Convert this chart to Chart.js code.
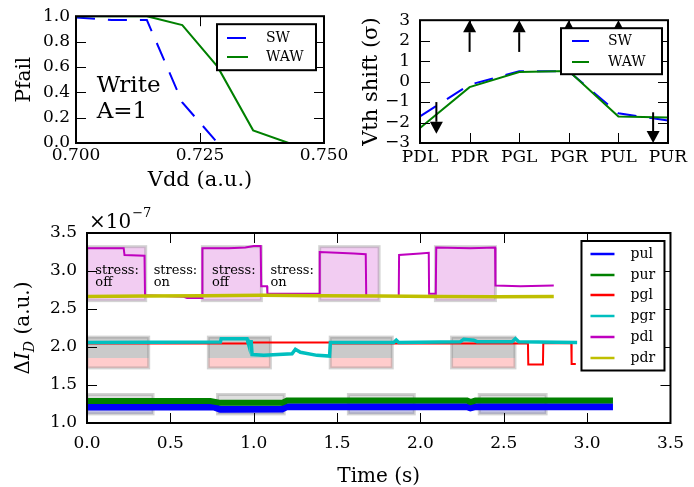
<!DOCTYPE html>
<html>
<head>
<meta charset="utf-8">
<script src="https://cdn.jsdelivr.net/npm/chart.js@4/dist/chart.umd.min.js"></script>
<style>
  html, body { margin: 0; padding: 0; background: #fff; }
  #wrap { position: relative; width: 694px; height: 487px; overflow: hidden; }
  #wrap canvas { position: absolute; left: 0; top: 0; }
</style>
</head>
<body>
<div id="wrap">
  <canvas id="pfailChart" width="694" height="487"></canvas>
  <canvas id="vthChart" width="694" height="487"></canvas>
  <canvas id="currentChart" width="694" height="487"></canvas>
</div>
<script>
// ---- failure probability vs supply ----
const vdd = [0.700, 0.70714, 0.71429, 0.72143, 0.72857, 0.73571, 0.74286];
const pfailSW = [0.99, 0.97, 0.97, 0.32, 0.0, null, null];
const pfailWAW = [1.0, 1.0, 1.0, 0.93, 0.60, 0.10, 0.0];
const vddTicks = [0.700, 0.725, 0.750];
const pfailTicks = [0, 0.2, 0.4, 0.6, 0.8, 1.0];
const noteLines = ['Write', 'A=1'];
const noteAt = [0.70417, 0.20];

// ---- Vth shift per transistor ----
const transistors = ['PDL', 'PDR', 'PGL', 'PGR', 'PUL', 'PUR'];
const vthSW = [-1.70, -0.15, 0.50, 0.50, -1.55, -1.90];
const vthWAW = [-2.27, -0.27, 0.47, 0.52, -1.70, -1.76];
const vthTicks = [-3, -2, -1, 0, 1, 2, 3];
const arrowPos = [0.33, 1, 2, 3, 4, 4.7];
const arrowFrom = [-1.0, 1.45, 1.45, 1.45, 1.45, -1.5];
const arrowTo = [-2.55, 3, 3, 3, 3, -3];

// ---- drain current traces (x1e-7) ----
const timeTicks = [0, 0.5, 1, 1.5, 2, 2.5, 3, 3.5];
const currentTicks = [1, 1.5, 2, 2.5, 3, 3.5];
const pulTrace = [[0, 1.21], [0.76, 1.21], [0.80, 1.18], [1.17, 1.185], [1.20, 1.215], [2.28, 1.215], [2.30, 1.20], [2.33, 1.215], [3.155, 1.215]];
const purTrace = [[0, 1.29], [0.74, 1.29], [0.80, 1.265], [1.17, 1.265], [1.20, 1.295], [2.28, 1.295], [2.30, 1.275], [2.33, 1.295], [3.155, 1.295]];
const pglTrace = [[0, 2.045], [0.985, 2.045], [0.99, 2.058], [1.46, 2.058], [1.465, 2.045], [2.645, 2.045], [2.647, 1.77], [2.735, 1.77], [2.737, 2.05], [2.905, 2.05], [2.907, 1.775], [2.932, 1.775]];
const pgrTrace = [[0, 2.06], [0.80, 2.065], [0.805, 2.11], [0.96, 2.11], [0.965, 2.07], [0.985, 2.07], [0.99, 1.90], [1.06, 1.89], [1.23, 1.91], [1.25, 1.97], [1.28, 1.93], [1.38, 1.89], [1.455, 1.88], [1.46, 2.06], [1.84, 2.06], [1.855, 2.09], [1.87, 2.06], [2.24, 2.07], [2.26, 2.10], [2.32, 2.09], [2.34, 2.07], [2.55, 2.07], [2.57, 2.11], [2.59, 2.07], [2.94, 2.06]];
const pdlTrace = [[0, 3.30], [0.22, 3.30], [0.225, 3.21], [0.345, 3.20], [0.348, 2.68], [0.58, 2.66], [0.60, 2.645], [0.69, 2.645], [0.692, 3.30], [0.85, 3.30], [0.95, 3.31], [1.00, 3.33], [1.042, 3.33], [1.045, 2.80], [1.08, 2.80], [1.082, 2.70], [1.394, 2.70], [1.396, 3.25], [1.50, 3.24], [1.60, 3.23], [1.672, 3.22], [1.675, 2.67], [1.87, 2.67], [1.872, 3.21], [2.00, 3.23], [2.05, 3.24], [2.052, 2.70], [2.092, 2.70], [2.095, 3.31], [2.30, 3.30], [2.448, 3.31], [2.45, 2.81], [2.60, 2.80], [2.80, 2.81]];
const pdrTrace = [[0, 2.665], [0.35, 2.67], [0.70, 2.675], [1.05, 2.68], [1.40, 2.675], [1.75, 2.67], [2.10, 2.665], [2.45, 2.66], [2.80, 2.665]];

// stress-off windows per transistor pair, and the current band each covers
const pdWindows = [[0, 0.352], [0.692, 1.046], [1.396, 1.752], [2.09, 2.45]];
const pgWindows = [[0, 0.37], [0.728, 1.10], [1.459, 1.831], [2.187, 2.567]];
const puWindows = [[0, 0.396], [0.783, 1.183], [1.568, 1.963], [2.353, 2.754]];
const pdBand = [2.61, 3.32];
const pgBand = [1.725, 1.855, 2.13];
const puBand = [1.12, 1.18, 1.375];
const stressLabelTime = [0.05, 0.40, 0.75, 1.10];
const stressLabelState = ['off', 'on', 'off', 'on'];

const SERIF = '"DejaVu Serif", "Liberation Serif", serif';
const TICK = 10;

Chart.defaults.font.family = SERIF;
Chart.defaults.font.size = 17;
Chart.defaults.color = '#000';
Chart.defaults.animation = false;
Chart.defaults.events = [];
Chart.defaults.elements.point.radius = 0;
Chart.defaults.elements.line.tension = 0;
Chart.defaults.plugins.legend.display = false;
Chart.defaults.plugins.tooltip.enabled = false;

const fixedTicks = values => scale => { scale.ticks = values.map(v => ({ value: v })); };
const xy = (xs, ys) => xs.map((v, i) => ({ x: v, y: ys[i] }));
const pts = trace => trace.map(p => ({ x: p[0], y: p[1] }));

function axis(extra) {
    return Object.assign({
        grid: { display: false, drawTicks: false },
        border: { display: false },
    }, extra);
}

// matplotlib-style box with inward ticks on all four sides
function drawFrame(chart) {
    const { ctx, chartArea: a, scales: { x, y } } = chart;
    ctx.save();
    ctx.strokeStyle = '#000';
    ctx.lineWidth = 1;
    ctx.beginPath();
    x.ticks.forEach((t, i) => {
        const px = Math.round(x.getPixelForTick(i)) + 0.5;
        ctx.moveTo(px, a.bottom); ctx.lineTo(px, a.bottom - TICK);
        ctx.moveTo(px, a.top); ctx.lineTo(px, a.top + TICK);
    });
    y.ticks.forEach((t, i) => {
        const py = Math.round(y.getPixelForTick(i)) + 0.5;
        ctx.moveTo(a.left, py); ctx.lineTo(a.left + TICK, py);
        ctx.moveTo(a.right, py); ctx.lineTo(a.right - TICK, py);
    });
    ctx.stroke();
    ctx.lineWidth = 2;
    ctx.strokeRect(a.left, a.top, a.width, a.height);
    ctx.restore();
}

function drawLegend(chart, o) {
    const { ctx, chartArea: a } = chart;
    const items = chart.data.datasets;
    const h = o.padY * 2 + o.rowH * (items.length - 1);
    const x0 = a.right - o.inset - o.width;
    const y0 = a.top + o.top;
    ctx.save();
    ctx.fillStyle = '#fff';
    ctx.fillRect(x0, y0, o.width, h);
    ctx.lineWidth = 2;
    ctx.strokeStyle = '#000';
    ctx.strokeRect(x0, y0, o.width, h);
    items.forEach((ds, i) => {
        const yy = Math.round(y0 + o.padY + i * o.rowH);
        ctx.beginPath();
        ctx.setLineDash(ds.borderDash || []);
        ctx.strokeStyle = ds.borderColor;
        ctx.lineWidth = o.lineWidth;
        ctx.moveTo(x0 + o.s0, yy);
        ctx.lineTo(x0 + o.s1, yy);
        ctx.stroke();
        ctx.setLineDash([]);
        ctx.fillStyle = '#000';
        ctx.font = o.font;
        ctx.textBaseline = 'middle';
        ctx.fillText(ds.label, x0 + o.tx, yy);
    });
    ctx.restore();
}

// ---------------- top left: Pfail ----------------
const pfailDecor = {
    id: 'pfailDecor',
    afterDatasetsDraw(chart) {
        const { ctx, scales: { x, y } } = chart;
        ctx.save();
        ctx.font = `23px ${SERIF}`;
        ctx.fillStyle = '#000';
        const px = x.getPixelForValue(noteAt[0]);
        const py = y.getPixelForValue(noteAt[1]);
        noteLines.forEach((line, i) => {
            ctx.fillText(line, px, py - (noteLines.length - 1 - i) * 25.6);
        });
        ctx.restore();
        drawFrame(chart);
        drawLegend(chart, { width: 99, inset: 8, top: 8, padY: 13.3, rowH: 19.4, s0: 10, s1: 31, tx: 49, lineWidth: 2, font: `14px ${SERIF}` });
    }
};

new Chart(document.getElementById('pfailChart'), {
    type: 'line',
    data: {
        datasets: [
            { label: 'SW', data: xy(vdd, pfailSW), borderColor: '#0000ff', borderWidth: 2, borderDash: [19, 13], order: 2 },
            { label: 'WAW', data: xy(vdd, pfailWAW), borderColor: '#008000', borderWidth: 2, order: 1 },
        ],
    },
    options: {
        responsive: false,
        layout: { padding: { left: 0, top: 16, right: 370, bottom: 294 } },
        scales: {
            x: axis({
                type: 'linear', min: 0.7, max: 0.75,
                afterBuildTicks: fixedTicks(vddTicks),
                afterFit: s => { s.height = 50; },
                ticks: { padding: 2, maxRotation: 0, autoSkip: false, callback: v => v.toFixed(3) },
                title: { display: true, text: 'Vdd (a.u.)', font: { size: 21 }, padding: 0 },
            }),
            y: axis({
                min: 0, max: 1,
                afterBuildTicks: fixedTicks(pfailTicks),
                afterFit: s => { s.width = 76; },
                ticks: { padding: 6, autoSkip: false, callback: v => v.toFixed(1) },
                title: { display: true, text: 'Pfail', font: { size: 20 }, padding: { top: 13, bottom: 0 } },
            }),
        },
    },
    plugins: [pfailDecor],
});

// ---------------- top right: Vth shift ----------------
function drawArrows(chart) {
    const { ctx, scales: { x, y } } = chart;
    ctx.save();
    ctx.fillStyle = ctx.strokeStyle = '#000';
    ctx.lineWidth = 2;
    arrowPos.forEach((p, i) => {
        const px = x.getPixelForValue(p);
        const y0 = y.getPixelForValue(arrowFrom[i]);
        const y1 = y.getPixelForValue(arrowTo[i]);
        const dir = Math.sign(y1 - y0);
        const head = 12;
        ctx.beginPath();
        ctx.moveTo(px, y0);
        ctx.lineTo(px, y1 - dir * head);
        ctx.stroke();
        ctx.beginPath();
        ctx.moveTo(px, y1);
        ctx.lineTo(px - 6.5, y1 - dir * head);
        ctx.lineTo(px + 6.5, y1 - dir * head);
        ctx.closePath();
        ctx.fill();
    });
    ctx.restore();
}

const vthDecor = {
    id: 'vthDecor',
    afterDatasetsDraw(chart) {
        drawArrows(chart);
        drawFrame(chart);
        drawLegend(chart, { width: 101, inset: 6, top: 8, padY: 12.7, rowH: 20.6, s0: 11, s1: 28, tx: 47, lineWidth: 2, font: `14px ${SERIF}` });
    }
};

new Chart(document.getElementById('vthChart'), {
    type: 'line',
    data: {
        labels: transistors,
        datasets: [
            { label: 'SW', data: vthSW, borderColor: '#0000ff', borderWidth: 2, borderDash: [19, 13], order: 2 },
            { label: 'WAW', data: vthWAW, borderColor: '#008000', borderWidth: 2, order: 1 },
        ],
    },
    options: {
        responsive: false,
        layout: { padding: { left: 340, top: 16, right: 26, bottom: 304 } },
        scales: {
            x: axis({
                type: 'category', offset: false,
                afterFit: s => { s.height = 40; },
                ticks: { padding: 4, maxRotation: 0, autoSkip: false },
            }),
            y: axis({
                min: -3, max: 3,
                afterBuildTicks: fixedTicks(vthTicks),
                afterFit: s => { s.width = 80; },
                ticks: { padding: 10, autoSkip: false, callback: v => (v < 0 ? '\u2212' + (-v) : String(v)) },
                title: { display: true, text: 'Vth shift (σ)', font: { size: 21 }, padding: { top: 19, bottom: 0 } },
            }),
        },
    },
    plugins: [vthDecor],
});

// ---------------- bottom: drain current vs time ----------------
function spanRect(chart, t0, t1, v0, v1) {
    const { x, y } = chart.scales;
    const x0 = x.getPixelForValue(t0), x1 = x.getPixelForValue(t1);
    const yTop = y.getPixelForValue(v1), yBot = y.getPixelForValue(v0);
    return [x0, yTop, x1 - x0, yBot - yTop];
}

function shade(chart, t0, t1, v0, v1, color) {
    chart.ctx.fillStyle = color;
    chart.ctx.fillRect(...spanRect(chart, t0, t1, v0, v1));
}

function outline(chart, t0, t1, v0, v1) {
    const ctx = chart.ctx;
    ctx.strokeStyle = 'rgba(128,128,128,0.35)';
    ctx.lineWidth = 3;
    ctx.strokeRect(...spanRect(chart, t0, t1, v0, v1));
}

function drawCurrentTitle(chart) {
    const { ctx, chartArea: a } = chart;
    const parts = [
        { text: 'Δ', font: `20px ${SERIF}`, dy: 0 },
        { text: 'I', font: `italic 20px ${SERIF}`, dy: 0 },
        { text: 'D', font: `italic 14px ${SERIF}`, dy: 5 },
        { text: ' (a.u.)', font: `20px ${SERIF}`, dy: 0 },
    ];
    ctx.save();
    ctx.fillStyle = '#000';
    ctx.translate(22, (a.top + a.bottom) / 2);
    ctx.rotate(-Math.PI / 2);
    ctx.textBaseline = 'alphabetic';
    let total = 0;
    parts.forEach(p => { ctx.font = p.font; p.w = ctx.measureText(p.text).width; total += p.w; });
    let cx = -total / 2;
    parts.forEach(p => { ctx.font = p.font; ctx.fillText(p.text, cx, 7 + p.dy); cx += p.w; });
    ctx.restore();

    // scale factor above the y axis
    ctx.save();
    ctx.fillStyle = '#000';
    ctx.textBaseline = 'alphabetic';
    ctx.font = `20px ${SERIF}`;
    ctx.fillText('×10', a.left + 2, a.top - 5);
    const w = ctx.measureText('×10').width;
    ctx.font = `13px ${SERIF}`;
    ctx.fillText('\u22127', a.left + 3 + w, a.top - 16);
    ctx.restore();
}

const currentDecor = {
    id: 'currentDecor',
    beforeDatasetsDraw(chart) {
        const { ctx, chartArea: a } = chart;
        ctx.save();
        ctx.beginPath();
        ctx.rect(a.left, a.top, a.width, a.height);
        ctx.clip();
        pdWindows.forEach(([t0, t1]) => {
            shade(chart, t0, t1, pdBand[0], pdBand[1], 'rgba(191,0,191,0.2)');
            outline(chart, t0, t1, pdBand[0], pdBand[1]);
        });
        pgWindows.forEach(([t0, t1]) => {
            shade(chart, t0, t1, pgBand[1], pgBand[2], 'rgba(128,128,128,0.42)');
            shade(chart, t0, t1, pgBand[0], pgBand[1], 'rgba(255,0,0,0.2)');
            outline(chart, t0, t1, pgBand[0], pgBand[2]);
        });
        puWindows.forEach(([t0, t1]) => {
            shade(chart, t0, t1, puBand[0], puBand[2], 'rgba(128,128,128,0.25)');
            shade(chart, t0, t1, puBand[0], puBand[1], 'rgba(0,0,255,0.12)');
            outline(chart, t0, t1, puBand[0], puBand[2]);
        });
        ctx.restore();
    },
    afterDatasetsDraw(chart) {
        const { ctx, scales: { x, y } } = chart;
        ctx.save();
        ctx.fillStyle = '#000';
        ctx.font = `13px ${SERIF}`;
        ctx.textBaseline = 'middle';
        stressLabelTime.forEach((t, i) => {
            const px = x.getPixelForValue(t);
            const py = y.getPixelForValue(3.0);
            ctx.fillText('stress:', px, py);
            ctx.fillText(stressLabelState[i], px, py + 12);
        });
        ctx.restore();
        drawFrame(chart);
        drawLegend(chart, { width: 83, inset: 6, top: 8, padY: 13, rowH: 20.7, s0: 9, s1: 33, tx: 49, lineWidth: 2.5, font: `14px ${SERIF}` });
        drawCurrentTitle(chart);
    }
};

const trace = (label, data, color, width, order) =>
    ({ label, data: pts(data), borderColor: color, borderWidth: width, order });

new Chart(document.getElementById('currentChart'), {
    type: 'line',
    data: {
        datasets: [
            trace('pul', pulTrace, '#0000ff', 7, 6),
            trace('pur', purTrace, '#008000', 6, 5),
            trace('pgl', pglTrace, '#ff0000', 2, 4),
            trace('pgr', pgrTrace, '#00bfbf', 3.5, 3),
            trace('pdl', pdlTrace, '#bf00bf', 2, 2),
            trace('pdr', pdrTrace, '#bfbf00', 3.5, 1),
        ],
    },
    options: {
        responsive: false,
        layout: { padding: { left: 0, top: 233, right: 16, bottom: 0 } },
        scales: {
            x: axis({
                type: 'linear', min: 0, max: 3.5,
                afterBuildTicks: fixedTicks(timeTicks),
                afterFit: s => { s.height = 64; },
                ticks: { padding: 10, maxRotation: 0, autoSkip: false, callback: v => v.toFixed(1) },
                title: { display: true, text: 'Time (s)', font: { size: 20, lineHeight: 1 }, padding: 0 },
            }),
            y: axis({
                min: 1, max: 3.5,
                afterBuildTicks: fixedTicks(currentTicks),
                afterFit: s => { s.width = 87; },
                ticks: { padding: 10, autoSkip: false, callback: v => v.toFixed(1) },
            }),
        },
    },
    plugins: [currentDecor],
});
</script>
</body>
</html>
